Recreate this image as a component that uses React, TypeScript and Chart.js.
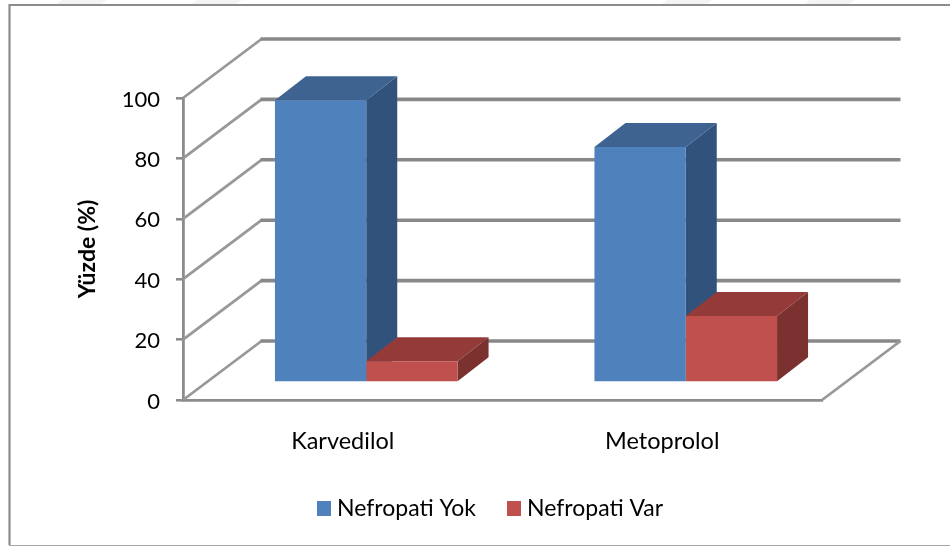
import React, { useEffect, useRef } from "react";
import { Chart, registerables } from "chart.js";

Chart.register(...registerables);

const categories = ["Karvedilol", "Metoprolol"];
const seriesNames = ["Nefropati Yok", "Nefropati Var"];
const nefropatiYok = [93.5, 78];
const nefropatiVar = [7, 22];
const yTicks = [0, 20, 40, 60, 80, 100];
const frontColors = ["#4F81BD", "#C0504D"];
const topColors = ["#3E6391", "#943B39"];
const sideColors = ["#31527A", "#7A3130"];

const FONT = "Lato, Carlito, sans-serif";
const WALL_DX = 78.5;
const WALL_DY = 59;
const BAR_SHIFT_X = 23.5;
const BAR_SHIFT_Y = -17.5;
const BAR_DX = 31;
const BAR_DY = 24;

function line(ctx: CanvasRenderingContext2D, pts: number[][], w: number, c: string) {
  ctx.beginPath();
  pts.forEach((p, i) => (i ? ctx.lineTo(p[0], p[1]) : ctx.moveTo(p[0], p[1])));
  ctx.lineWidth = w;
  ctx.strokeStyle = c;
  ctx.stroke();
}

function poly(ctx: CanvasRenderingContext2D, pts: number[][], c: string) {
  ctx.beginPath();
  pts.forEach((p, i) => (i ? ctx.lineTo(p[0], p[1]) : ctx.moveTo(p[0], p[1])));
  ctx.closePath();
  ctx.fillStyle = c;
  ctx.fill();
}

const chart3d = {
  id: "chart3d",
  afterLayout(chart: any) {
    const l = chart.legend;
    const p = l.options.labels.padding;
    const lineW = l.lineWidths[0];
    l.left = 645 - p - l.right + lineW;
    l.top = 508.5 - p - l.options.labels.font.size / 2;
    l.adjustHitBoxes();
  },
  beforeDraw(chart: any) {
    const { ctx } = chart;
    ctx.save();
    ctx.fillStyle = "#fff";
    ctx.fillRect(0, 0, chart.width, chart.height);
    // faint marks along the top edge
    [55, 190, 660, 803].forEach((x) =>
      poly(ctx, [[x, 5], [x + 7, 0], [x + 52, 0], [x + 45, 5]], "#f4f4f4")
    );
    // frame
    line(ctx, [[9.5, 545], [9.5, 5], [950, 5]], 2.2, "#8c8c8c");
    line(ctx, [[9, 545.5], [950, 545.5]], 1.2, "#a6a6a6");
    ctx.restore();
  },
  beforeDatasetsDraw(chart: any) {
    const { ctx, chartArea } = chart;
    const y = chart.scales.y;
    const { left, right } = chartArea;
    ctx.save();
    ctx.lineCap = "butt";
    ctx.lineJoin = "miter";
    yTicks.forEach((t) => {
      const py = y.getPixelForValue(t);
      line(ctx, [[left, py], [left + WALL_DX, py - WALL_DY]], 2.8, "#989898");
      line(ctx, [[left + WALL_DX - 1, py - WALL_DY], [right + WALL_DX, py - WALL_DY]], 3.6, "#888888");
    });
    const p0 = y.getPixelForValue(0);
    line(ctx, [[right, p0], [right + WALL_DX, p0 - WALL_DY]], 2.8, "#989898");
    ctx.restore();

    ctx.save();
    ctx.translate(BAR_SHIFT_X, BAR_SHIFT_Y);
    chart.data.datasets.forEach((_: any, di: number) => {
      chart.getDatasetMeta(di).data.forEach((bar: any) => {
        const { x, y: top, base, width } = bar.getProps(["x", "y", "base", "width"]);
        const l = x - width / 2;
        const r = x + width / 2;
        poly(ctx, [[r, top], [r + BAR_DX, top - BAR_DY], [r + BAR_DX, base - BAR_DY], [r, base]], sideColors[di]);
        poly(ctx, [[l, top], [l + BAR_DX, top - BAR_DY], [r + BAR_DX, top - BAR_DY], [r, top]], topColors[di]);
      });
    });
  },
  afterDatasetsDraw(chart: any) {
    chart.ctx.restore();
  },
};

function legendBox(color: string) {
  const c = document.createElement("canvas");
  c.width = 14;
  c.height = 15;
  const g = c.getContext("2d")!;
  g.fillStyle = color;
  g.fillRect(0, 0, 14, 15);
  return c;
}

export default function App() {
  const ref = useRef<HTMLCanvasElement>(null);
  useEffect(() => {
    const boxes = frontColors.map(legendBox);
    const chart = new Chart(ref.current!, {
      type: "bar",
      data: {
        labels: categories,
        datasets: [
          { label: seriesNames[0], data: nefropatiYok, backgroundColor: frontColors[0], clip: false } as any,
          { label: seriesNames[1], data: nefropatiVar, backgroundColor: frontColors[1], clip: false } as any,
        ],
      },
      plugins: [chart3d],
      options: {
        animation: false,
        responsive: false,
        layout: { padding: { left: 0, right: 128, top: 98, bottom: 0 } },
        datasets: { bar: { barPercentage: 1, categoryPercentage: 0.5715 } },
        scales: {
          x: {
            afterFit: (s: any) => { s.height = 146 - s.chart.legend.height; },
            grid: { display: true, drawOnChartArea: false, drawTicks: false },
            border: { display: true, color: "#8c8c8c", width: 2.8 },
            ticks: { color: "#000", font: { family: FONT, size: 23.5 }, padding: 27, maxRotation: 0 },
          },
          y: {
            min: 0,
            max: 100,
            afterFit: (s: any) => { s.width = 183; },
            afterBuildTicks: (s: any) => { s.ticks = yTicks.map((value) => ({ value })); },
            grid: { drawOnChartArea: false, drawTicks: true, tickLength: 7, color: "#8c8c8c", lineWidth: 2.6 },
            border: { display: true, color: "#8c8c8c", width: 2.8 },
            ticks: { color: "#000", font: { family: FONT, size: 22 }, padding: 16, labelOffset: 1.5 },
            title: {
              display: true,
              text: "Yüzde (%)",
              color: "#000",
              font: { family: FONT, size: 23, weight: "bold" },
              padding: { top: 74, bottom: 0 },
            },
          },
        },
        plugins: {
          tooltip: { enabled: false },
          legend: {
            position: "bottom",
            labels: {
              color: "#000",
              font: { family: FONT, size: 23 },
              padding: 36.5,
              usePointStyle: true,
              boxHeight: 14,
              pointStyleWidth: 3,
              generateLabels: (c: any) =>
                Chart.defaults.plugins.legend.labels
                  .generateLabels(c)
                  .map((it: any, i: number) => ({ ...it, pointStyle: boxes[i] })),
            },
          },
        },
      } as any,
    });
    return () => chart.destroy();
  }, []);
  return (
    <canvas
      ref={ref}
      width={950}
      height={546}
      style={{ position: "absolute", left: 0, top: 0, width: 950, height: 546, display: "block" }}
    />
  );
}
